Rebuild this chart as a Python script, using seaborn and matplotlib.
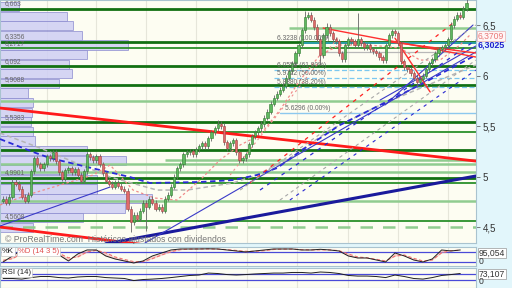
import numpy as np
import pandas as pd
import matplotlib
matplotlib.use("Agg")
import matplotlib.pyplot as plt
import seaborn as sns

# ---------------- data ----------------
closes = [4.78, 4.74, 4.80, 4.95, 4.93, 4.88, 4.80, 4.76, 4.82, 5.05,
          5.18, 5.12, 5.08, 5.12, 5.20, 5.18, 5.24, 5.15, 5.04, 4.98,
          5.06, 5.08, 5.04, 5.07, 5.02, 4.96, 5.05, 5.22, 5.19, 5.16,
          5.20, 5.12, 5.03, 4.96, 4.93, 4.90, 4.94, 4.91, 4.88, 4.86,
          4.68, 4.55, 4.62, 4.58, 4.66, 4.74, 4.70, 4.78, 4.74, 4.68,
          4.70, 4.66, 4.78, 4.82, 4.90, 5.00, 5.08, 5.12, 5.22, 5.24,
          5.25, 5.22, 5.27, 5.30, 5.33, 5.30, 5.38, 5.44, 5.48, 5.52,
          5.50, 5.34, 5.28, 5.33, 5.36, 5.24, 5.16, 5.18, 5.22, 5.32,
          5.40, 5.44, 5.48, 5.52, 5.58, 5.64, 5.72, 5.78, 5.82, 5.86,
          5.90, 5.98, 6.04, 6.12, 6.22, 6.30, 6.45, 6.58, 6.60, 6.55,
          6.48, 6.36, 6.20, 6.40, 6.48, 6.42, 6.36, 6.34, 6.22, 6.16,
          6.30, 6.36, 6.34, 6.30, 6.36, 6.32, 6.28, 6.30, 6.26, 6.24,
          6.22, 6.18, 6.15, 6.30, 6.40, 6.44, 6.42, 6.32, 6.14, 6.08,
          6.06, 6.02, 5.98, 5.94, 5.97, 6.00, 6.06, 6.12, 6.16, 6.22,
          6.26, 6.28, 6.30, 6.36, 6.50, 6.56, 6.60, 6.58, 6.66, 6.72]
first_open = 4.76
high_override = {69: 5.56, 97: 6.64, 104: 6.52, 114: 6.62, 149: 6.76}
low_override = {41: 4.45, 46: 4.46, 102: 6.10, 133: 5.89, 56: 4.98}

# horizontal support/resistance levels: (price, kind, start index)
h_levels = [(6.663, 'dark', -1), (6.470, 'light', 92), (6.3356, 'dark', -1),
            (6.2717, 'mid', -1), (6.233, 'gray', 103), (6.092, 'dark', -1),
            (5.9088, 'dark', -1), (5.743, 'light', -1), (5.5383, 'dark', -1),
            (5.441, 'mid', -1), (5.262, 'dark', -1), (5.163, 'light', 52),
            (5.124, 'light', -1), (5.045, 'light', -1), (4.9901, 'dark', -1),
            (4.936, 'mid', -1), (4.757, 'light', -1), (4.5608, 'mid', -1),
            (4.500, 'dashed', -1)]
level_labels = [("6,663", 6.663), ("6,3356", 6.3356), ("6,2717", 6.2717),
                ("6,092", 6.092), ("5,9088", 5.9088), ("5,5383", 5.5383),
                ("4,9901", 4.9901), ("4,5608", 4.5608)]

# Fibonacci retracement
fib_prices = [6.3238, 6.0558, 5.9722, 5.8880, 5.6296]
fib_pcts = ["100.00%", "61.80%", "50.00%", "38.20%", "0.00%"]
fib_start = 87

# volume profile (top bin to bottom bin)
vp_top = 6.73
vp_step = 0.095
vp_values = [19, 67, 73, 82, 128, 87, 69, 72, 59, 28, 33, 32, 31, 33, 35,
             87, 126, 87, 97, 97, 152, 125, 83, 33]

# trend lines ((idx0, p0), (idx1, p1), color, lw, style)
trend_lines = [((-1, 5.678), (152, 5.153), '#ff1a1a', 2.0, '-'),
               ((-1, 4.500), (60, 4.270), '#ff1a1a', 2.0, '-'),
               ((33, 4.335), (152, 5.005), '#1a1a9c', 2.2, '-'),
               ((-1, 4.51), (34.4, 4.896), '#3a3ac8', 0.8, '-'),
               ((45.6, 4.342), (152, 6.233), '#3a3ac8', 0.8, '-'),
               ((122.8, 5.708), (151.1, 6.50), '#3a3ac8', 0.8, '-'),
               ((121.2, 5.757), (152, 6.292), '#3a3ac8', 0.8, '-'),
               ((102.9, 6.47), (152, 6.183), '#ff3030', 1.0, '-'),
               ((124.4, 6.332), (152, 6.223), '#ff3030', 1.0, '-'),
               ((126.0, 6.37), (137.3, 5.837), '#ff3030', 1.0, '-'),
               ((79.4, 4.936), (144.7, 6.52), '#ff2020', 0.9, (0, (3, 4))),
               ((82.6, 4.866), (152, 6.351), '#2a2ad0', 0.9, (0, (3, 4))),
               ((92.2, 4.767), (152, 6.054), '#2a2ad0', 0.8, (0, (3, 4))),
               ((76.2, 4.866), (152, 6.500), '#a8a8a8', 0.8, (0, (3, 3))),
               ((89.0, 4.767), (152, 6.153), '#a8a8a8', 0.8, (0, (3, 3))),
               ((73.0, 5.015), (108.3, 6.401), '#f09090', 0.8, (0, (2, 3)))]

# moving averages (sparse points: index, price)
ma_blue_x = [-1, 9.6, 15.1, 31.2, 40.8, 47.2, 63.3, 73.9, 81.6, 88.1, 96.1, 108.3, 121.2, 134.0, 152]
ma_blue_y = [5.371, 5.243, 5.183, 5.064, 4.995, 4.936, 4.946, 4.965, 5.015, 5.084, 5.262, 5.510, 5.708, 5.906, 6.203]
ma_gray_x = [-1, 11.9, 34.4, 49.5, 59.1, 73.9, 81.6, 92.2, 105.1, 121.2, 152]
ma_gray_y = [5.431, 5.282, 4.995, 4.866, 4.866, 4.936, 5.015, 5.183, 5.460, 5.708, 6.104]
ma_pink_x = [-1, 7.7, 18.3, 28.9, 34.4, 41.8, 48.8, 55.9, 63.3, 69.7, 76.2, 82.6, 89, 95.5,
             101.9, 108.3, 118, 127.6, 134, 140.5, 146.9, 150.1]
ma_pink_y = [4.718, 4.817, 4.916, 5.015, 5.114, 4.866, 4.787, 4.767, 4.965, 5.163, 5.312, 5.411,
             5.658, 5.955, 6.203, 6.302, 6.302, 6.272, 6.153, 6.153, 6.302, 6.401]

# indicators (every third session)
stoch_k = [20, 56, 92, 86, 68, 92, 62, 26, 68, 92, 92, 56, 38, 26, 14, 26, 56, 74, 92, 98,
           98, 98, 99, 98, 92, 86, 80, 86, 92, 98, 98, 98, 92, 92, 96, 92, 86, 56, 44, 44,
           32, 20, 74, 56, 32, 20, 38, 92, 86, 92]
stoch_d = [30, 40, 70, 88, 80, 80, 72, 45, 50, 80, 90, 75, 50, 35, 22, 22, 40, 62, 82, 94,
           97, 98, 98, 97, 94, 89, 84, 84, 88, 95, 97, 97, 94, 92, 93, 92, 88, 68, 50, 45,
           36, 26, 55, 62, 42, 26, 32, 75, 88, 90]
rsi = [37, 37, 33, 43, 50, 50, 43, 40, 47, 50, 50, 43, 40, 37, 23, 30, 33, 37, 43, 50,
       57, 60, 73, 70, 63, 60, 63, 67, 70, 73, 73, 77, 77, 73, 80, 77, 70, 57, 53, 53,
       50, 43, 60, 50, 37, 33, 43, 57, 63, 70]

price_ticks = [4.5, 5.0, 5.5, 6.0, 6.5]
price_tick_labels = ["4,5", "5", "5,5", "6", "6,5"]
grid_idx = [14, 30, 46, 62, 78.5, 94.5, 111, 127, 143]

# ---------------- style ----------------
sns.set_style("white")
plt.rcParams['font.family'] = ['Liberation Sans', 'DejaVu Sans']

BG = '#fdfdf2'
SIDE = '#e2f6fb'
EDGE = '#a9c3cf'

fig = plt.figure(figsize=(5.12, 2.88), dpi=100, facecolor=SIDE)
W = 476 / 512
ax = fig.add_axes([0, 45 / 288, W, 243 / 288])
ax_s = fig.add_axes([0, 22.3 / 288, W, 19 / 288])
ax_r = fig.add_axes([0, 0.5 / 288, W, 19.7 / 288])

XMIN, XMAX = -1, 152.05
for a in (ax, ax_s, ax_r):
    a.set_facecolor(BG)
    a.set_xlim(XMIN, XMAX)
    for s in a.spines.values():
        s.set_color(EDGE)
        s.set_linewidth(0.8)
    a.set_xticks([])
    for g in grid_idx:
        a.axvline(g, color='#e6e6da', lw=0.8, zorder=0)

ax.set_ylim(4.342, 6.7475)

# volume profile
n = len(vp_values)
vp_centers = [vp_top - vp_step * (i + 0.5) for i in range(n)]
ax.barh(vp_centers, [v / 3.11 for v in vp_values], height=vp_step * 0.96, left=XMIN,
        color='#cfcff4', edgecolor='#8c8cd0', linewidth=0.6, alpha=0.85, zorder=1)

# horizontal levels
styles = {'dark': ('#127012', 2.0, '-'), 'mid': ('#2a902a', 1.3, '-'),
          'light': ('#90cc90', 1.8, '-'), 'gray': ('#b8b8b8', 0.9, '-'),
          'dashed': ('#90cc90', 1.8, (0, (5, 4)))}
for p, kind, start in h_levels:
    c, lw, ls = styles[kind]
    ax.plot([start, XMAX], [p, p], color=c, lw=lw, ls=ls, zorder=2, solid_capstyle='butt')

for txt, p in level_labels:
    ax.text(0.5, p + 0.012, txt, fontsize=4.8, color='#666666', va='bottom', ha='left', zorder=6)

# fibonacci
for i, (p, pct) in enumerate(zip(fib_prices, fib_pcts)):
    if i == 0:
        ax.plot([fib_start + 9, XMAX], [p, p], color='#2aa0a8', lw=1.4, zorder=2)
    elif i == len(fib_prices) - 1:
        ax.plot([fib_start + 2, XMAX], [p, p], color='#8cc8ee', lw=1.0, zorder=2)
    else:
        ax.plot([fib_start, XMAX], [p, p], color='#7cc8f0', lw=0.9, ls=(0, (4, 2)), zorder=2)
    ax.text(fib_start + 3.5 if i == 4 else fib_start + 1, p + 0.012, f"{p:.4f} ({pct})",
            fontsize=4.8, color='#666666', va='bottom', ha='left', zorder=6)

# moving averages
sns.lineplot(x=ma_gray_x, y=ma_gray_y, ax=ax, color='#b5b5b5', lw=1.1, ls=(0, (3, 2)), zorder=3)
sns.lineplot(x=ma_blue_x, y=ma_blue_y, ax=ax, color='#2a2ad8', lw=1.3, ls=(0, (3, 2)), zorder=3)
sns.lineplot(x=ma_pink_x, y=ma_pink_y, ax=ax, color='#f08a8a', lw=0.9, ls=(0, (2, 2)), zorder=3)

# trend lines
for (x0, y0), (x1, y1), c, lw, ls in trend_lines:
    ax.plot([x0, x1], [y0, y1], color=c, lw=lw, ls=ls, zorder=3)

# candles
idx = np.arange(len(closes))
opens = [first_open] + closes[:-1]
body_lo, body_h, cols, edges, highs, lows = [], [], [], [], [], []
for i, (o, c) in enumerate(zip(opens, closes)):
    lo, hi = min(o, c), max(o, c)
    body_lo.append(lo)
    body_h.append(max(hi - lo, 0.008))
    if c > o:
        cols.append('#5fb85f'); edges.append('#2f7a2f')
    elif c < o:
        cols.append('#e06a6a'); edges.append('#a04444')
    else:
        cols.append('#bbbbbb'); edges.append('#777777')
    highs.append(high_override.get(i, hi + 0.025))
    lows.append(low_override.get(i, lo - 0.025))
ax.vlines(idx, lows, highs, color='#666666', lw=0.6, zorder=4)
ax.bar(idx, body_h, bottom=body_lo, width=0.7, color=cols, edgecolor=edges, linewidth=0.4, zorder=5)

# price axis on right
ax.yaxis.tick_right()
ax.set_yticks(price_ticks)
ax.set_yticklabels(price_tick_labels)
ax.tick_params(axis='y', length=3, width=0.6, color='#666666', labelsize=7, labelcolor='#333333', pad=2)
ax.set_ylabel('')
ax.set_xlabel('')

ax.text(0.5, 4.375, "\u00a9 ProRealTime.com  Históricos ajustados con dividendos",
        fontsize=6.2, color='#777777', va='center', ha='left', zorder=7)

fig.text(478 / 512, 1 - 36 / 288, "6,3709", fontsize=6.2, color='#e87878', va='center', ha='left',
         bbox=dict(fc='#fff6f6', ec='#e8b0b0', lw=0.5, pad=0.6))
fig.text(478 / 512, 1 - 45 / 288, "6,3025", fontsize=6.4, color='#2020d0', va='center', ha='left',
         fontweight='bold')

# stochastic
ind_x = idx[::3]
ax_s.set_ylim(-2.4, 111.6)
ax_s.axhline(80, color='#4a4ad8', lw=0.9, zorder=1)
ax_s.axhline(20, color='#4a4ad8', lw=0.9, zorder=1)
ax_s.fill_between(ind_x, stoch_k, stoch_d, color='#f4a8a8', alpha=0.55, lw=0, zorder=2)
sns.lineplot(x=ind_x, y=stoch_d, ax=ax_s, color='#f07070', lw=0.8, ls=(0, (3, 2)), zorder=3)
sns.lineplot(x=ind_x, y=stoch_k, ax=ax_s, color='#202020', lw=0.7, zorder=4)
ax_s.set_yticks([]); ax_s.set_xlabel(''); ax_s.set_ylabel('')
ax_s.text(0.004, 0.93, "%K", transform=ax_s.transAxes, fontsize=5.6, color='#222222', va='top',
          ha='left', bbox=dict(fc='white', ec='#bbbbbb', lw=0.4, pad=0.7), zorder=8)
ax_s.text(0.037, 0.93, "%D (14 3 5)", transform=ax_s.transAxes, fontsize=5.6, color='#e05050',
          va='top', ha='left', bbox=dict(fc='white', ec='#bbbbbb', lw=0.4, pad=0.7), zorder=8)
fig.text(479 / 512, 1 - 253 / 288, "95,054", fontsize=6.2, color='#333333', va='center', ha='left',
         bbox=dict(fc='white', ec='#999999', lw=0.5, pad=0.6))
fig.text(479 / 512, 1 - 262 / 288, "0", fontsize=6.2, color='#333333', va='center', ha='left')

# RSI
ax_r.set_ylim(-23, 108)
ax_r.axhline(70, color='#4a4ad8', lw=0.9, zorder=1)
ax_r.axhline(30, color='#4a4ad8', lw=0.9, zorder=1)
sns.lineplot(x=ind_x, y=rsi, ax=ax_r, color='#202020', lw=0.7, zorder=4)
ax_r.set_yticks([]); ax_r.set_xlabel(''); ax_r.set_ylabel('')
ax_r.text(0.004, 0.93, "RSI (14)", transform=ax_r.transAxes, fontsize=5.6, color='#222222',
          va='top', ha='left', bbox=dict(fc='white', ec='#bbbbbb', lw=0.4, pad=0.7), zorder=8)
fig.text(479 / 512, 1 - 274 / 288, "73,107", fontsize=6.2, color='#333333', va='center', ha='left',
         bbox=dict(fc='white', ec='#999999', lw=0.5, pad=0.6))
fig.text(479 / 512, 1 - 282 / 288, "0", fontsize=6.2, color='#333333', va='center', ha='left')

fig.savefig("out.png", dpi=100, facecolor=fig.get_facecolor())
